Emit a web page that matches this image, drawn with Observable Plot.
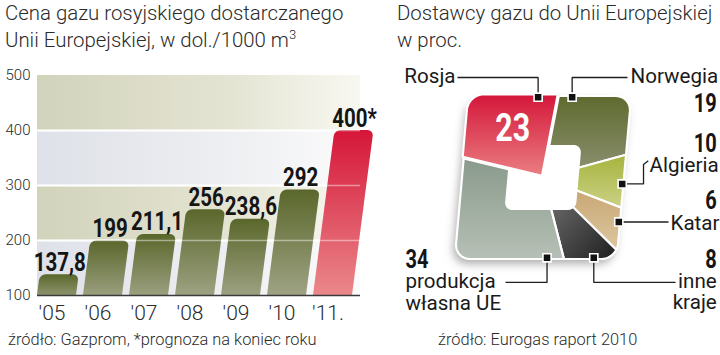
<!DOCTYPE html>
<html><head><meta charset="utf-8">
<script src="https://cdn.jsdelivr.net/npm/d3@7"></script>
<script src="https://cdn.jsdelivr.net/npm/@observablehq/plot@0.6"></script>
<style>
html,body{margin:0;padding:0;background:#fff;}
#wrap{position:relative;width:720px;height:355px;overflow:hidden;font-family:Roboto,"Open Sans",sans-serif;color:#2a2a2a;}
.title{position:absolute;font-weight:300;font-size:20.4px;line-height:27px;white-space:nowrap;}
.title sup{font-size:13px;vertical-align:0;position:relative;top:-8px;}
.note{position:absolute;font-weight:300;font-size:16.4px;white-space:nowrap;}
#left,#right{position:absolute;top:0;}
#left{left:0;} #right{left:360px;}
svg{overflow:visible;}
</style></head><body>
<div id="wrap">
  <div id="left"></div>
  <div id="right"></div>
  <div class="title" style="left:5px;top:0px">Cena gazu rosyjskiego dostarczanego<br>Unii Europejskiej, w dol./1000 m<sup>3</sup></div>
  <div class="title" style="left:397px;top:0px">Dostawcy gazu do Unii Europejskiej<br>w proc.</div>
  <div class="note" style="left:8px;top:330px">źródło: Gazprom, *prognoza na koniec roku</div>
  <div class="note" style="left:438px;top:330px">źródło: Eurogas raport 2010</div>
</div>
<script>
// ---------- data: left chart ----------
const years = ["'05", "'06", "'07", "'08", "'09", "'10", "'11."];
const prices = [137.8, 199, 211.1, 256, 238.6, 292, 400];
const priceLabels = ["137,8", "199", "211,1", "256", "238,6", "292", "400*"];
const forecast = [false, false, false, false, false, false, true];
const yTicks = [100, 200, 300, 400, 500];

// ---------- data: right chart ----------
const suppliers = ["Norwegia", "Algieria", "Katar", "inne kraje", "produkcja własna UE", "Rosja"];
const shares = [19, 10, 6, 8, 34, 23];
const supplierLabels = ["Norwegia", "Algieria", "Katar", "inne\nkraje", "produkcja\nwłasna UE", "Rosja"];
const shareLabels = ["19", "10", "6", "8", "34", "23"];

// ---------- styling / layout ----------
const BOLD = "Roboto,'Liberation Sans',sans-serif";
const LIGHT = "Roboto,'Open Sans',sans-serif";
const SVGNS = "http://www.w3.org/2000/svg";
function addDefs(svg, html) {
  const d = document.createElementNS(SVGNS, "defs");
  d.innerHTML = html;
  svg.insertBefore(d, svg.firstChild);
}
function linPx(sc) {
  return v => sc.range[0] + (v - sc.domain[0]) / (sc.domain[1] - sc.domain[0]) * (sc.range[1] - sc.range[0]);
}
// squeeze bold texts horizontally (condensed bold look)
function condense(svg, factor) {
  svg.querySelectorAll('g[font-weight="bold"] text').forEach(t => {
    const L = t.getComputedTextLength();
    t.setAttribute("textLength", (L * factor).toFixed(2));
    t.setAttribute("lengthAdjust", "spacingAndGlyphs");
  });
}

// ================= LEFT =================
const SKEW = 0.13;
const priceData = years.map((year, i) => ({year, price: prices[i], label: priceLabels[i], forecast: forecast[i]}));
const bands = d3.pairs(yTicks).map(([lo, hi], i) => ({lo, hi, tone: i % 2 ? "k" : "b"}));

const left = Plot.plot({
  width: 390, height: 355,
  marginLeft: 37, marginRight: 30, marginTop: 75, marginBottom: 60,
  style: {background: "transparent", fontFamily: LIGHT, color: "#2a2a2a", overflow: "visible"},
  x: {domain: years, range: [37, 357.8], paddingInner: 0.145, paddingOuter: 0, align: 0},
  y: {domain: [100, 500]},
  marks: [
    Plot.rect(bands.filter(d => d.tone === "k"), {y1: "lo", y2: "hi", fill: "url(#bandK)"}),
    Plot.rect(bands.filter(d => d.tone === "b"), {y1: "lo", y2: "hi", fill: "url(#bandB)"}),
    Plot.ruleY(yTicks.slice(1, -1), {stroke: "#fff", strokeWidth: 2}),
    Plot.barY(priceData.filter(d => !d.forecast), {x: "year", y1: d => yTicks[0], y2: "price", fill: "url(#olive)", rx: 6, insetBottom: -10}),
    Plot.barY(priceData.filter(d => d.forecast), {x: "year", y1: d => yTicks[0], y2: "price", fill: "url(#red)", rx: 6, insetBottom: -10}),
    Plot.ruleY(yTicks.slice(1, -1), {stroke: "#fff", strokeOpacity: 0.45, strokeWidth: 1.5}),
    Plot.ruleY([yTicks[0]], {stroke: "#3a3a3a", strokeWidth: 1.6}),
    Plot.axisY({ticks: yTicks, tickSize: 0, tickPadding: 7, fontSize: 15, fontWeight: 300, label: null}),
    Plot.axisX({tickSize: 0, tickPadding: 10, fontSize: 21, fontWeight: 300, label: null, dx: -5}),
    Plot.text(priceData, {x: "year", y: "price", text: "label", lineAnchor: "bottom", dy: -4, fontSize: 25, fontWeight: "bold", fontFamily: BOLD, fill: "#151515"})
  ]
});
document.getElementById("left").appendChild(left);
{
  const yPx = linPx(left.scale("y"));
  const base = yPx(yTicks[0]);
  const deg = Math.atan(SKEW) * 180 / Math.PI;
  addDefs(left, `
    <linearGradient id="olive" x1="0" y1="0" x2="0" y2="1"><stop offset="0" stop-color="#5a672b"/><stop offset="1" stop-color="#a5a88c"/></linearGradient>
    <linearGradient id="red" x1="0" y1="0" x2="0" y2="1"><stop offset="0" stop-color="#d51639"/><stop offset="1" stop-color="#ec8f8f"/></linearGradient>
    <linearGradient id="bandK" x1="0" y1="0" x2="1" y2="0"><stop offset="0" stop-color="#d2d3bb"/><stop offset="0.6" stop-color="#e4e4d3"/><stop offset="1" stop-color="#f8f8f2"/></linearGradient>
    <linearGradient id="bandB" x1="0" y1="0" x2="1" y2="0"><stop offset="0" stop-color="#dee1e8"/><stop offset="0.6" stop-color="#eeeff2"/><stop offset="1" stop-color="#fbfbfb"/></linearGradient>
    <clipPath id="aboveBase"><rect x="0" y="-50" width="420" height="${base + 50}"/></clipPath>`);
  left.querySelectorAll('g[aria-label="bar"]').forEach(g => {
    g.setAttribute("clip-path", "url(#aboveBase)");
    g.querySelectorAll("rect").forEach(r => r.setAttribute("transform", `translate(${SKEW * base},0) skewX(${-deg})`));
  });
  condense(left, 0.82);
  left.querySelectorAll('g[aria-label="text"] text').forEach((t, i) => {
    const dx = SKEW * (base - yPx(priceData[i].price));
    t.setAttribute("transform", `translate(${dx},0) ` + (t.getAttribute("transform") || ""));
  });
}

// ================= RIGHT =================
const START = 6 * Math.PI / 180;   // first slice starts just right of 12 o'clock
const SK = 0.09;                    // slant of the square
const RC = 0.19;                    // outer corner radius (unit square, half-side 1)
const HOLE = [0.44, 0.40, 0.1];     // hole half-width, half-height, radius
const pie = d3.pie().sort(null).startAngle(START).endAngle(START + 2 * Math.PI)(shares);
const slices = suppliers.map((name, i) => ({name, i, a0: pie[i].startAngle, a1: pie[i].endAngle}));

function sdBox(px, py, bx, by, r) {
  const qx = Math.abs(px) - bx + r, qy = Math.abs(py) - by + r;
  return Math.hypot(Math.max(qx, 0), Math.max(qy, 0)) + Math.min(Math.max(qx, qy), 0) - r;
}
function ray(theta, bx, by, r) {
  const dx = Math.sin(theta), dy = Math.cos(theta);
  let lo = 0, hi = 3;
  for (let k = 0; k < 40; k++) { const m = (lo + hi) / 2; if (sdBox(m * dx, m * dy, bx, by, r) < 0) lo = m; else hi = m; }
  return [lo * dx, lo * dy];
}
const P = (x, y, name) => ({x: x + SK * y, y, name});
function ringPts(bx, by, r, name) {
  const pts = [];
  for (let j = 0; j < 720; j++) { const [x, y] = ray(j / 720 * 2 * Math.PI, bx, by, r); pts.push(P(x, y, name)); }
  return pts;
}
function slicePts(s, explode) {
  const mid = (s.a0 + s.a1) / 2, ox = explode * Math.sin(mid), oy = explode * Math.cos(mid);
  const n = Math.max(4, Math.ceil((s.a1 - s.a0) / (Math.PI / 360)));
  const pts = [];
  for (let j = 0; j <= n; j++) { const [x, y] = ray(s.a0 + (s.a1 - s.a0) * j / n, 1, 1, RC); pts.push(P(x + ox, y + oy, s.name)); }
  pts.push(P(ox, oy, s.name));
  return pts;
}

// label layout (unit coordinates of the square; marker angle in degrees)
const markerDeg = [15.4, 94.6, 119, 144, 172, 351.4];
const leaderRoute = [
  m => [[m.x, 1.227], [1.043, 1.227]],
  m => [[1.241, m.y], [1.241, 0.16], [1.30, 0.205]],
  m => [[1.549, m.y]],
  m => [[m.x, -1.288], [1.636, -1.288]],
  m => [[m.x, -1.288], [-0.463, -1.288]],
  m => [[m.x, 1.227], [-1.056, 1.227]]
];
const nameLayout = [
  {x: 1.080, y: 1.239, anchor: "start"},
  {x: 1.315, y: 0.150, anchor: "start"},
  {x: 1.574, y: -0.558, anchor: "start"},
  {x: 2.145, y: -1.399, anchor: "end"},
  {x: -1.698, y: -1.408, anchor: "start"},
  {x: -1.080, y: 1.239, anchor: "end"}
];
const valueLayout = [
  {x: 2.145, y: 0.902, anchor: "end"},
  {x: 2.145, y: 0.411, anchor: "end"},
  {x: 2.145, y: -0.288, anchor: "end"},
  {x: 2.145, y: -1.012, anchor: "end"},
  {x: -1.698, y: -1.018, anchor: "start"},
  null
];

const markers = slices.map(s => {
  const [x, y] = ray(markerDeg[s.i] * Math.PI / 180, 1, 1, RC);
  return P(x * 0.985, y * 0.985, s.name);
});
const leaders = markers.flatMap((m, i) => [m, ...leaderRoute[i](m).map(([x, y]) => ({x, y, name: m.name}))]);
const names = slices.map(s => ({...nameLayout[s.i], text: supplierLabels[s.i]}));
const values = slices.filter(s => valueLayout[s.i]).map(s => ({...valueLayout[s.i], text: shareLabels[s.i]}));
const rosja = slices[slices.length - 1];
const rMid = (rosja.a0 + rosja.a1) / 2;
const inside = [P(0.74 * Math.sin(rMid), 0.74 * Math.cos(rMid), rosja.name)].map(p => ({...p, text: shareLabels[rosja.i]}));

const cx = 182.5, cy = 177;
const sliceMark = (s, explode) => Plot.line(slicePts(s, explode), {x: "x", y: "y", curve: "linear-closed", fill: `url(#g${s.i})`, stroke: "#fff", strokeWidth: 2.2, strokeLinejoin: "round"});
const nameOpts = {x: "x", y: "y", text: "text", fontSize: 20.6, lineHeight: 1.03, fill: "#1a1a1a", fontFamily: LIGHT};
const valOpts = {x: "x", y: "y", text: "text", fontSize: 25, fontWeight: "bold", fill: "#151515", fontFamily: BOLD};
const right = Plot.plot({
  width: 360, height: 355, margin: 0,
  style: {background: "transparent", fontFamily: LIGHT, color: "#222", overflow: "visible"},
  x: {domain: [-1, 1], range: [cx - 81, cx + 81], axis: null},
  y: {domain: [-1, 1], range: [cy + 81.5, cy - 81.5], axis: null},
  marks: [
    Plot.line(ringPts(1, 1, RC, "shadow"), {x: "x", y: "y", curve: "linear-closed", fill: "#6f6f6f", fillOpacity: 0.55, stroke: "none", dx: -3, dy: 5}),
    ...slices.slice(0, -1).map(s => sliceMark(s, 0)),
    Plot.line(ringPts(HOLE[0], HOLE[1], HOLE[2], "hole"), {x: "x", y: "y", curve: "linear-closed", fill: "#fff", stroke: "none"}),
    sliceMark(rosja, 0.025),
    Plot.line(leaders, {x: "x", y: "y", z: "name", stroke: "#1e1e1e", strokeWidth: 1.3, strokeLinejoin: "miter", strokeLinecap: "butt"}),
    Plot.dot(markers, {x: "x", y: "y", symbol: "square", r: 4.6, fill: "#111", stroke: "#fff", strokeWidth: 1.6}),
    Plot.text(names.filter(d => d.anchor === "start"), {...nameOpts, textAnchor: "start"}),
    Plot.text(names.filter(d => d.anchor === "end"), {...nameOpts, textAnchor: "end"}),
    Plot.text(values.filter(d => d.anchor === "start"), {...valOpts, textAnchor: "start"}),
    Plot.text(values.filter(d => d.anchor === "end"), {...valOpts, textAnchor: "end"}),
    Plot.text(inside, {...valOpts, fontSize: 38, fill: "#fff"})
  ]
});
document.getElementById("right").appendChild(right);
addDefs(right, `
  <filter id="blur" x="-30%" y="-30%" width="160%" height="160%"><feGaussianBlur stdDeviation="4"/></filter>
  <linearGradient id="g0" x1="0" y1="0" x2="0" y2="1"><stop offset="0" stop-color="#5e6a2f"/><stop offset="1" stop-color="#8f9374"/></linearGradient>
  <linearGradient id="g1" x1="0" y1="0" x2="0" y2="1"><stop offset="0" stop-color="#a7b43d"/><stop offset="1" stop-color="#cbd186"/></linearGradient>
  <linearGradient id="g2" x1="0" y1="0" x2="0" y2="1"><stop offset="0" stop-color="#c5a16b"/><stop offset="1" stop-color="#dcc6a0"/></linearGradient>
  <linearGradient id="g3" x1="1" y1="1" x2="0" y2="0"><stop offset="0" stop-color="#1f1f1f"/><stop offset="1" stop-color="#7a7b7a"/></linearGradient>
  <linearGradient id="g4" x1="0" y1="0" x2="0" y2="1"><stop offset="0" stop-color="#899a8c"/><stop offset="1" stop-color="#b7c0b6"/></linearGradient>
  <linearGradient id="g5" x1="0" y1="0" x2="0" y2="1"><stop offset="0" stop-color="#d4163a"/><stop offset="1" stop-color="#ea7e81"/></linearGradient>`);
{
  const firstLine = right.querySelector('g[aria-label="line"]');
  if (firstLine) firstLine.setAttribute("filter", "url(#blur)");
  condense(right, 0.8);
}
</script>
</body></html>
